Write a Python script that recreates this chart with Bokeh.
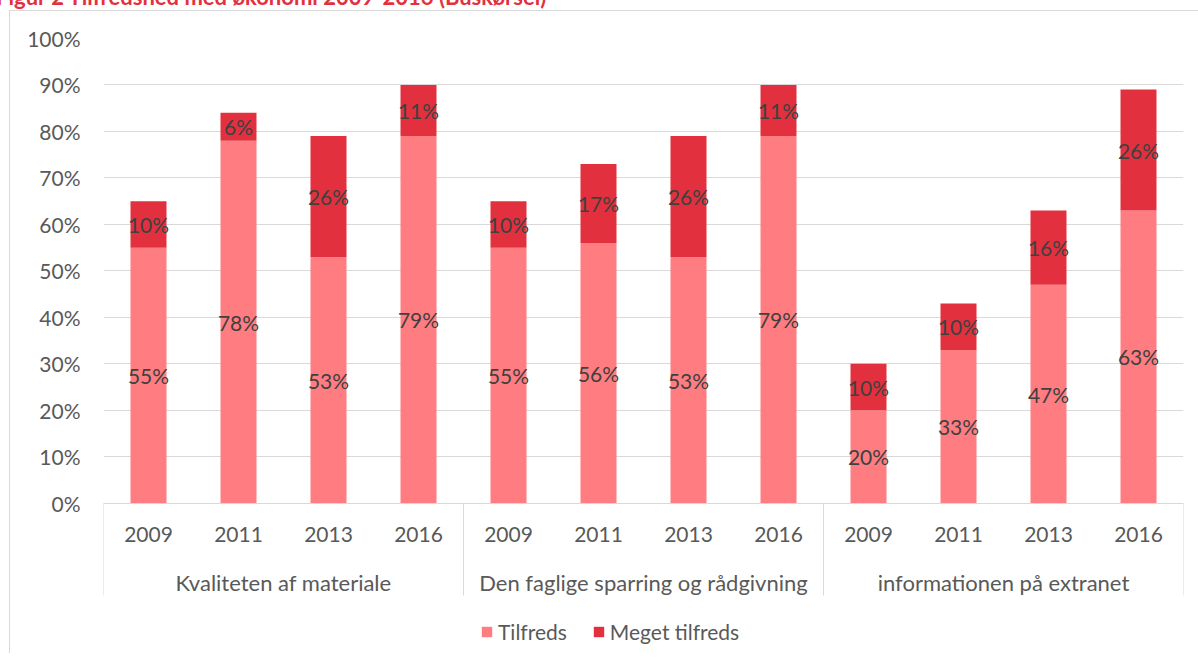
from bokeh.plotting import figure
from bokeh.layouts import column
from bokeh.models import (FactorRange, ColumnDataSource, Legend, LegendItem,
                          FixedTicker, PrintfTickFormatter, Div)
from bokeh.core.properties import value
from bokeh.embed import file_html
from bokeh.resources import INLINE

title = "Figur 2 Tilfredshed med økonomi 2009-2016 (Buskørsel)"
groups = ["Kvaliteten af materiale", "Den faglige sparring og rådgivning", "informationen på extranet"]
years = ["2009", "2011", "2013", "2016"]
tilfreds = [55, 78, 53, 79, 55, 56, 53, 79, 20, 33, 47, 63]
meget = [10, 6, 26, 11, 10, 17, 26, 11, 10, 10, 16, 26]
series = ["Tilfreds", "Meget tilfreds"]
colors = ["#FF7C80", "#E3303E"]
y_ticks = [0, 10, 20, 30, 40, 50, 60, 70, 80, 90, 100]

FONT = "Lato"
TXT = "#595959"
PX_PER_UNIT = 4.64          # 464 px for 0..100
FRAME_H = 615
Y_LOW = -(FRAME_H - 100 * PX_PER_UNIT) / PX_PER_UNIT

factors = [(g, y) for g in groups for y in years]
src = ColumnDataSource(dict(
    x=factors,
    Tilfreds=tilfreds,
    **{"Meget tilfreds": meget},
    y1=[t / 2 for t in tilfreds],
    y2=[t + m / 2 for t, m in zip(tilfreds, meget)],
    l1=[f"{t}%" for t in tilfreds],
    l2=[f"{m}%" for m in meget],
))

p = figure(frame_width=1079, frame_height=FRAME_H, output_backend="svg", toolbar_location=None,
           x_range=FactorRange(*factors, group_padding=0, factor_padding=0, range_padding=0),
           y_range=(Y_LOW, 100),
           min_border_left=93, min_border_right=16, min_border_top=27, min_border_bottom=0)

rs = p.vbar_stack(series, x="x", width=0.4, color=colors, source=src, line_width=0)

for col, lab in (("y1", "l1"), ("y2", "l2")):
    p.text(x="x", y=col, text=lab, source=src, text_align="center", text_baseline="middle",
           text_font=value(FONT), text_font_size="21px", text_color="#404040")

# group separator lines of the category axis
sep_x = [(g, years[0], -0.5) for g in groups] + [(groups[-1], years[-1], 0.5)]
sep_src = ColumnDataSource(dict(x=sep_x, y0=[0] * len(sep_x), y1=[-92 / PX_PER_UNIT] * len(sep_x)))
p.segment(x0="x", x1="x", y0="y0", y1="y1", source=sep_src, line_color="#D9D9D9", line_width=1)

p.outline_line_color = None
p.xgrid.grid_line_color = None
p.ygrid.grid_line_color = "#D9D9D9"
p.ygrid.grid_line_width = 1

p.yaxis.ticker = FixedTicker(ticks=y_ticks)
p.yaxis.formatter = PrintfTickFormatter(format="%d%%")
p.yaxis.axis_line_color = None
p.yaxis.major_tick_line_color = None
p.yaxis.minor_tick_line_color = None
p.yaxis.major_tick_out = 0
p.yaxis.major_label_standoff = 23
p.yaxis.major_label_text_font = FONT
p.yaxis.major_label_text_font_size = "21px"
p.yaxis.major_label_text_color = TXT

xa = p.xaxis[0]
xa.fixed_location = 0
xa.axis_line_color = "#D9D9D9"
xa.major_tick_line_color = None
xa.minor_tick_line_color = None
xa.major_tick_out = 0
xa.major_label_text_font = FONT
xa.major_label_text_font_size = "21px"
xa.major_label_text_color = TXT
xa.group_text_font = FONT
xa.group_text_font_size = "22px"
xa.group_text_color = TXT
xa.group_text_font_style = "normal"
xa.separator_line_color = None
xa.major_label_standoff = 24

legend = Legend(items=[LegendItem(label=s, renderers=[r]) for s, r in zip(series, rs)],
                orientation="horizontal", location=(377, 10), margin=0, padding=0,
                label_text_font=FONT, label_text_font_size="21px", label_text_color=TXT,
                glyph_width=13, glyph_height=13, spacing=25, border_line_color=None,
                background_fill_alpha=0)
p.add_layout(legend)

p.margin = (0, 0, 0, 9)
p.styles = {"border-left": "1px solid #D9D9D9", "border-top": "1px solid #D9D9D9"}

head = Div(text=f'<div style="position:relative;top:-14px;left:-4px;font-family:Lato;font-weight:bold;'
                f'font-size:22px;color:#E3303E;line-height:22px;white-space:nowrap">{title}</div>',
           width=1198, height=10, margin=0, sizing_mode="fixed",
           styles={"overflow": "hidden", "height": "10px", "max-height": "10px",
                   "padding": "0", "margin": "0"})

layout = column(head, p, spacing=0)

open("out.html", "w").write(file_html(layout, INLINE))
